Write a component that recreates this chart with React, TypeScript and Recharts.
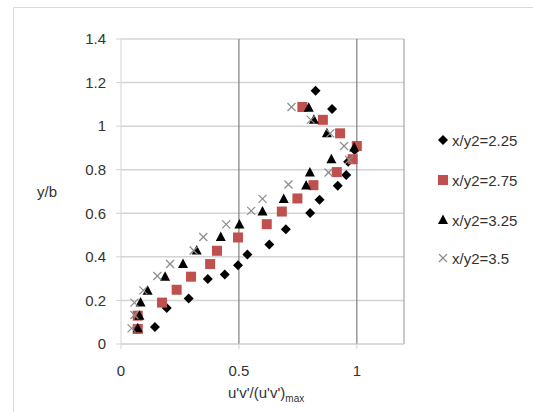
import { ScatterChart, Scatter, XAxis, YAxis, CartesianGrid, ReferenceLine } from 'recharts';

const seriesNames = ['x/y2=2.25', 'x/y2=2.75', 'x/y2=3.25', 'x/y2=3.5'];
const xTicks = [0, 0.5, 1];
const yTicks = [0, 0.2, 0.4, 0.6, 0.8, 1, 1.2, 1.4];

// [u'v'/(u'v')max, y/b]
const s225 = [
    [0.144, 0.078], [0.194, 0.165], [0.287, 0.209], [0.368, 0.298], [0.44, 0.319], [0.496, 0.362],
    [0.536, 0.411], [0.629, 0.457], [0.699, 0.527], [0.802, 0.601], [0.842, 0.662], [0.919, 0.726],
    [0.955, 0.776], [0.963, 0.836], [0.99, 0.891], [0.895, 1.079], [0.825, 1.162]
];
const s275 = [
    [0.071, 0.069], [0.071, 0.13], [0.174, 0.19], [0.236, 0.249], [0.297, 0.309], [0.378, 0.367],
    [0.407, 0.428], [0.496, 0.489], [0.618, 0.55], [0.682, 0.608], [0.748, 0.668], [0.816, 0.729],
    [0.915, 0.789], [0.982, 0.848], [1.0, 0.909], [0.929, 0.967], [0.856, 1.029], [0.769, 1.088]
];
const s325 = [
    [0.071, 0.072], [0.078, 0.13], [0.083, 0.191], [0.113, 0.245], [0.187, 0.309], [0.263, 0.367],
    [0.321, 0.429], [0.423, 0.491], [0.502, 0.549], [0.6, 0.608], [0.69, 0.666], [0.785, 0.727],
    [0.801, 0.787], [0.892, 0.848], [0.989, 0.902], [0.873, 0.967], [0.818, 1.029], [0.796, 1.085]
];
const s35 = [
    [0.045, 0.072], [0.057, 0.133], [0.057, 0.19], [0.095, 0.246], [0.154, 0.312], [0.208, 0.367],
    [0.308, 0.429], [0.349, 0.491], [0.446, 0.549], [0.552, 0.611], [0.6, 0.666], [0.71, 0.732],
    [0.88, 0.787], [0.967, 0.845], [0.946, 0.909], [0.887, 0.967], [0.805, 1.029], [0.723, 1.088]
];

const toPoints = (arr: number[][]) => arr.map(([x, y]) => ({ x, y }));

const FONT = '"Liberation Sans", Arial, sans-serif';
const TEXT = '#333';
const RED = '#c0504d';
const GREY_X = '#8c8c8c';

const Diamond = ({ cx, cy }: any) => (
    <polygon points={`${cx},${cy - 5} ${cx + 5},${cy} ${cx},${cy + 5} ${cx - 5},${cy}`} fill="#000" />
);
const Square = ({ cx, cy }: any) => (
    <rect x={cx - 5} y={cy - 5} width={10} height={10} fill={RED} />
);
const Triangle = ({ cx, cy }: any) => (
    <polygon points={`${cx},${cy - 5.5} ${cx + 5},${cy + 4} ${cx - 5},${cy + 4}`} fill="#000" />
);
const Cross = ({ cx, cy }: any) => (
    <g stroke={GREY_X} strokeWidth={1.2}>
        <line x1={cx - 4} y1={cy - 4} x2={cx + 4} y2={cy + 4} />
        <line x1={cx - 4} y1={cy + 4} x2={cx + 4} y2={cy - 4} />
    </g>
);

const markers = [Diamond, Square, Triangle, Cross];

const LegendBox = () => (
    <div style={{ position: 'absolute', left: 436, top: 130, fontFamily: FONT, fontSize: 15, color: TEXT }}>
        {seriesNames.map((name, i) => {
            const M = markers[i];
            return (
                <div key={name} style={{ display: 'flex', alignItems: 'center', height: 20, marginBottom: i === 2 ? 18 : 20 }}>
                    <svg width={14} height={14} style={{ marginRight: 2 }}>
                        <M cx={7} cy={7} />
                    </svg>
                    <span>{name}</span>
                </div>
            );
        })}
    </div>
);

const App = () => {
    return (
        <div style={{ position: 'absolute', left: 0, top: 0, width: 533, height: 412, overflow: 'hidden', background: '#fff' }}>
            <div style={{ position: 'absolute', left: 13, top: 7, width: 600, height: 500, border: '1.5px solid #d9d9d9' }} />
            <div style={{ position: 'absolute', left: 0, top: 0 }}>
                <ScatterChart width={533} height={412} margin={{ top: 39, right: 129, bottom: 0, left: 0 }}>
                    <CartesianGrid vertical={false} stroke="#d4d4d4" strokeWidth={1.5} />
                    <XAxis
                        type="number"
                        dataKey="x"
                        domain={[0, 1.2]}
                        ticks={xTicks}
                        height={68}
                        stroke="#d4d4d4"
                        tickSize={5}
                        tickMargin={16}
                        tick={{ fill: TEXT, fontSize: 15, fontFamily: FONT }}
                        label={{
                            content: () => (
                                <text x={228} y={398} fill={TEXT} fontFamily={FONT} fontSize={15}>
                                    u'v'/(u'v')
                                    <tspan fontSize={10} dy={4}>max</tspan>
                                </text>
                            )
                        }}
                    />
                    <YAxis
                        type="number"
                        dataKey="y"
                        domain={[0, 1.4]}
                        ticks={yTicks}
                        width={121}
                        stroke="#d4d4d4"
                        tickSize={5}
                        tickMargin={10}
                        tick={{ fill: TEXT, fontSize: 15, fontFamily: FONT }}
                        label={{
                            content: () => (
                                <text x={47} y={197} fill={TEXT} fontFamily={FONT} fontSize={15} textAnchor="middle">
                                    y/b
                                </text>
                            )
                        }}
                    />
                    <ReferenceLine x={0.5} stroke="#7f7f7f" strokeWidth={1.2} />
                    <ReferenceLine x={1} stroke="#7f7f7f" strokeWidth={1.2} />
                    <ReferenceLine x={1.2} stroke="#a6a6a6" strokeWidth={1.2} />
                    <Scatter name={seriesNames[0]} data={toPoints(s225)} shape={(p: any) => <Diamond {...p} />} isAnimationActive={false} />
                    <Scatter name={seriesNames[1]} data={toPoints(s275)} shape={(p: any) => <Square {...p} />} isAnimationActive={false} />
                    <Scatter name={seriesNames[2]} data={toPoints(s325)} shape={(p: any) => <Triangle {...p} />} isAnimationActive={false} />
                    <Scatter name={seriesNames[3]} data={toPoints(s35)} shape={(p: any) => <Cross {...p} />} isAnimationActive={false} />
                </ScatterChart>
            </div>
            <LegendBox />
        </div>
    );
};

export default App;
